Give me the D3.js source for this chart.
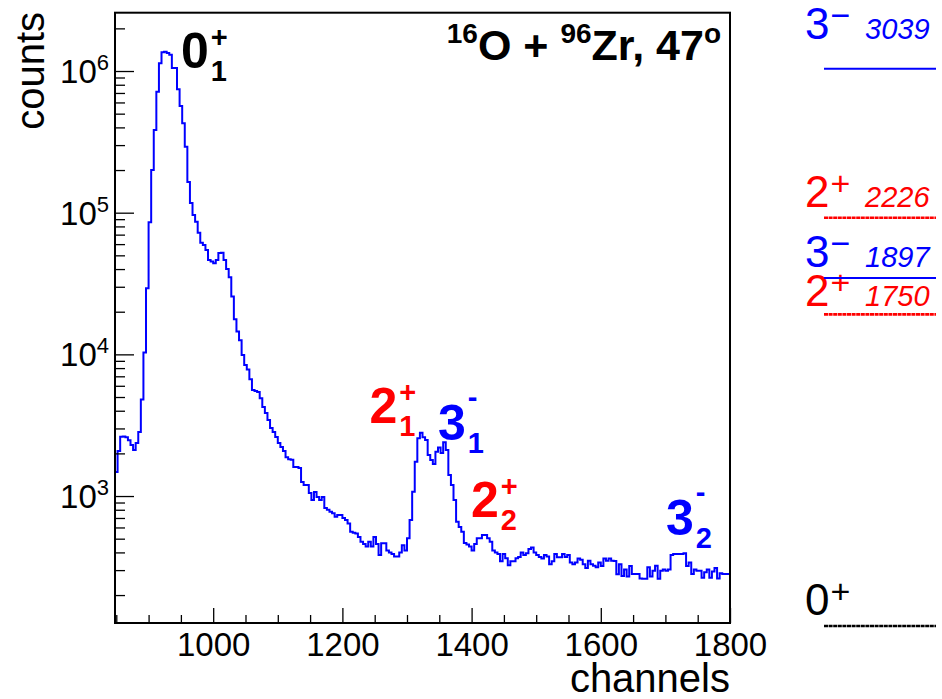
<!DOCTYPE html>
<html><head><meta charset="utf-8">
<script src="https://cdn.jsdelivr.net/npm/d3@7"></script>
<style>body{margin:0;background:#fff} svg{display:block} text{font-family:"Liberation Sans",Arial,Helvetica,sans-serif}</style>
</head><body><svg id="c" width="942" height="699"></svg>
<script>
// ---------- data ----------
const firstChannel = 848;
const binWidth = 4;
const counts = [
1480,2080,2620,2630,2600,2480,2290,2110,2370,2830,
4800,10290,29300,85500,200000,383000,714000,1133000,1355000,1370000,
1340000,1300000,1050000,1050000,743000,566000,427000,292000,165000,117000,
96300,86400,72300,61400,59200,54600,46400,45200,44000,46400,
52000,52200,46400,40100,35000,25600,17700,14500,12600,9890,
8400,7830,6660,5600,5510,5420,4910,4250,3850,3440,
3020,2830,2610,2370,2220,2080,1880,1820,1800,1600,
1600,1580,1255,1195,1195,1050,937,1067,984,937,
984,824,800,775,755,713,735,735,700,677,
640,560,550,545,514,476,458,440,476,440,
514,458,383,465,465,412,400,390,375,375,
400,450,412,503,677,1072,1745,2553,2800,2595,
2484,1946,1795,1682,2050,2200,2010,2400,2110,1406,
1195,937,658,605,560,467,455,440,412,458,
503,503,531,531,503,476,412,400,390,346,
390,364,325,346,346,364,371,400,383,394,
423,434,400,383,371,362,383,375,330,346,
390,370,370,390,372,383,340,330,340,362,
355,330,310,350,330,322,314,340,321,362,
350,362,350,348,280,330,273,303,270,321,
282,282,282,262,261,261,314,270,297,322,
261,297,303,297,303,383,390,390,390,390,
394,321,340,282,303,297,297,265,290,303,
265,293,310,262,285,282,282,282
];
const xTicksMajor = [1000, 1200, 1400, 1600, 1800];
const xTickLabels = ["1000", "1200", "1400", "1600", "1800"];
const yDecades = [3, 4, 5, 6];
const xTitle = "channels";
const yTitle = "counts";

const levelEnergies = [0, 1750, 1897, 2226, 3039];
const levelSpins = ["0", "2", "3", "2", "3"];
const levelParities = ["+", "+", "\u2212", "+", "\u2212"];

const peakSpins = ["0", "2", "3", "2", "3"];
const peakIndices = ["1", "1", "1", "2", "2"];
const peakParities = ["+", "+", "-", "+", "-"];
const peakChannels = [950, 1242, 1348, 1399, 1701];
const peakCounts = [1.045e6, 3300, 2490, 716, 532];

// ---------- layout ----------
const svg = d3.select("#c");
const X0 = 115, X1 = 730, Y0 = 12.7, Y1 = 623;
const FONT = '"Liberation Sans",Arial,Helvetica,sans-serif';
const lastChannel = firstChannel + binWidth * counts.length;
const x = d3.scaleLinear().domain([firstChannel, lastChannel]).range([X0, X1]);
const y = d3.scaleLog().domain([127, 2.58e6]).range([Y1, Y0]);

const colorOf = p => (p === "+" ? "#ff0000" : "#0000ff");

// histogram
svg.append("clipPath").attr("id", "clip").append("rect")
  .attr("x", X0).attr("y", Y0).attr("width", X1 - X0).attr("height", Y1 - Y0);
const pts = counts.map((c, i) => [firstChannel + i * binWidth, c]);
pts.push([lastChannel, counts[counts.length - 1]]);
const line = d3.line().x(d => x(d[0])).y(d => y(d[1])).curve(d3.curveStepAfter);
svg.append("path").attr("d", line(pts)).attr("fill", "none")
  .attr("stroke", "#0000ff").attr("stroke-width", 2).attr("clip-path", "url(#clip)");

// x axis ticks
const minorX = d3.range(850, lastChannel, 50).filter(v => !xTicksMajor.includes(v));
const gxm = svg.append("g").attr("transform", `translate(0,${Y1})`)
  .call(d3.axisBottom(x).tickValues(minorX).tickSize(-8).tickFormat(""));
gxm.select(".domain").remove();
const gx = svg.append("g").attr("transform", `translate(0,${Y1})`)
  .call(d3.axisBottom(x).tickValues(xTicksMajor).tickSize(-15).tickPadding(10)
    .tickFormat((d, i) => xTickLabels[i]));
gx.select(".domain").remove();
gx.selectAll("text").attr("font-size", 33).attr("font-family", FONT).attr("fill", "#000");

// y axis ticks
const minorY = [];
for (let e = 2; e <= 6; e++) for (let m = 2; m <= 9; m++) {
  const v = m * Math.pow(10, e);
  if (v > y.domain()[0] && v < y.domain()[1]) minorY.push(v);
}
const gym = svg.append("g").attr("transform", `translate(${X0},0)`)
  .call(d3.axisLeft(y).tickValues(minorY).tickSize(-10).tickFormat(""));
gym.select(".domain").remove();
const gy = svg.append("g").attr("transform", `translate(${X0},0)`)
  .call(d3.axisLeft(y).tickValues(yDecades.map(e => Math.pow(10, e))).tickSize(-19).tickFormat(""));
gy.select(".domain").remove();
svg.selectAll(".tick line").attr("stroke", "#000").attr("stroke-width", 1.3);

yDecades.forEach(e => {
  const t = svg.append("text").attr("x", 109).attr("y", y(Math.pow(10, e)) + 12)
    .attr("text-anchor", "end").attr("fill", "#000");
  t.append("tspan").attr("font-size", 33).text("10");
  t.append("tspan").attr("font-size", 22).attr("dy", -13).text(String(e));
});

// frame
svg.append("rect").attr("x", X0).attr("y", Y0).attr("width", X1 - X0).attr("height", Y1 - Y0)
  .attr("fill", "none").attr("stroke", "#000").attr("stroke-width", 2);

// axis titles
svg.append("text").attr("x", X1).attr("y", 692).attr("text-anchor", "end")
  .attr("font-size", 40).text(xTitle);
svg.append("text").attr("transform", "translate(44,12) rotate(-90)").attr("text-anchor", "end")
  .attr("font-size", 40).text(yTitle);

// title
const title = svg.append("text").attr("x", 721).attr("y", 60).attr("text-anchor", "end")
  .attr("font-weight", "bold").attr("fill", "#000");
title.append("tspan").attr("font-size", 28).attr("dy", -17).text("16");
title.append("tspan").attr("font-size", 43).attr("dy", 17).text("O + ");
title.append("tspan").attr("font-size", 28).attr("dy", -17).text("96");
title.append("tspan").attr("font-size", 43).attr("dy", 17).text("Zr, 47");
title.append("tspan").attr("font-size", 28).attr("dy", -17).text("o");

// peak labels
peakSpins.forEach((s, i) => {
  const col = peakChannels[i] < 1000 ? "#000" : colorOf(peakParities[i]);
  const px = x(peakChannels[i]), py = y(peakCounts[i]);
  const main = svg.append("text").attr("x", px).attr("y", py).attr("font-size", 50)
    .attr("font-weight", "bold").attr("fill", col).text(s);
  const w = main.node().getComputedTextLength();
  svg.append("text").attr("x", px + w + 2).attr("y", py + 13).attr("font-size", 29)
    .attr("font-weight", "bold").attr("fill", col).text(peakIndices[i]);
  svg.append("text").attr("x", px + w + 2).attr("y", py + (peakParities[i] === "+" ? -21 : -33))
    .attr("font-size", 29).attr("font-weight", "bold").attr("fill", col).text(peakParities[i]);
});

// level scheme
const yE = d3.scaleLinear().domain([0, d3.max(levelEnergies)]).range([626, 68.7]);
const order = d3.range(levelEnergies.length).sort((a, b) => levelEnergies[b] - levelEnergies[a]);
const minGap = 36.3;
let prevY = -Infinity;
const levelY = [], pushed = [];
order.forEach(i => {
  let ly = yE(levelEnergies[i]);
  pushed[i] = false;
  if (ly < prevY + minGap) { ly = prevY + minGap; pushed[i] = true; }
  levelY[i] = ly; prevY = ly;
});
const topIdx = order[0];
levelEnergies.forEach((E, i) => {
  const col = E === 0 ? "#000" : colorOf(levelParities[i]);
  const dashed = levelParities[i] === "+";
  svg.append("line").attr("x1", 824).attr("x2", 936).attr("y1", levelY[i]).attr("y2", levelY[i])
    .attr("stroke", col).attr("stroke-width", dashed ? 2.6 : 2)
    .attr("stroke-dasharray", dashed ? "4,0.6" : null);
  const gap = i === topIdx ? 30 : (pushed[i] ? 8 : 11);
  const by = levelY[i] - gap;
  const main = svg.append("text").attr("x", 805).attr("y", by).attr("font-size", 44)
    .attr("fill", col).text(levelSpins[i]);
  const w = main.node().getComputedTextLength();
  svg.append("text").attr("x", 805 + w + 1).attr("y", by - 12).attr("font-size", 34)
    .attr("fill", col).text(levelParities[i]);
  if (E > 0) {
    svg.append("text").attr("x", 865).attr("y", by).attr("font-size", 29)
      .attr("font-style", "italic").attr("fill", col).text(String(E));
  }
});
</script>
</body></html>
